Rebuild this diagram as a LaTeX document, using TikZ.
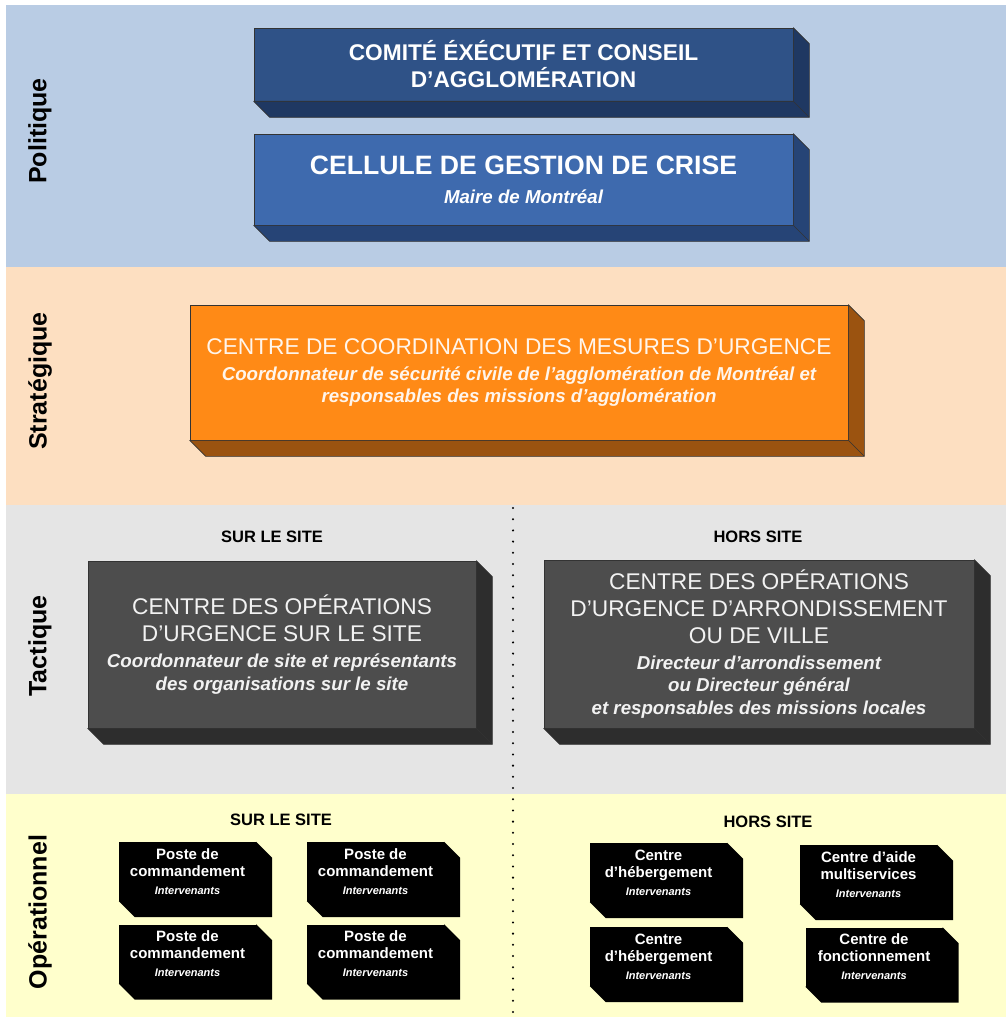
\documentclass[tikz,border=0pt]{standalone}
\usepackage{fontspec}
\setmainfont{Liberation Sans}
\usetikzlibrary{calc}

\definecolor{bandpol}{RGB}{185,204,228}
\definecolor{bandstrat}{RGB}{253,223,193}
\definecolor{bandtact}{RGB}{229,229,229}
\definecolor{bandop}{RGB}{255,255,204}
\definecolor{comfront}{RGB}{47,82,135}
\definecolor{comside}{RGB}{31,56,98}
\definecolor{celfront}{RGB}{62,106,174}
\definecolor{celside}{RGB}{38,68,118}
\definecolor{orfront}{RGB}{255,138,22}
\definecolor{orside}{RGB}{155,83,16}
\definecolor{grfront}{RGB}{77,77,77}
\definecolor{grside}{RGB}{45,45,45}

\newcommand{\gtitre}{\fontsize{22.7}{27}\selectfont}
\newcommand{\stitre}{\fontsize{18.7}{22.5}\selectfont\bfseries\itshape}
\newcommand{\itv}{\fontsize{11}{13}\selectfont\bfseries\itshape}

% side and bottom faces of a block
\newcommand{\epaisseur}[3][16]{%
  \path[fill=#3, arete, line join=round]
    (#2.north east) -- ++(#1,#1) -- ($(#2.south east)+(#1,#1)$)
    -- ($(#2.south west)+(#1,#1)$) -- (#2.south west) -- (#2.south east) -- cycle;
  \path[arete] (#2.south east) -- ++(#1,#1);}

\begin{document}
\begin{tikzpicture}[x=1pt,y=-1pt]
      \tikzset{
        arete/.style={draw=black!80,line width=0.6pt},
        bloc/.style={draw=black!80,line width=0.6pt,inner sep=0pt,align=center,
          text=white,font=\fontsize{18.7}{22.5}\selectfont},
        poste/.style={fill=black,inner sep=0pt,minimum width=137,minimum height=59,
          align=center,text=white,font=\fontsize{15}{17}\selectfont\bfseries},
        niveau/.style={rotate=90,font=\fontsize{25}{30}\selectfont\bfseries},
        lieu/.style={font=\fontsize{16.5}{20}\selectfont\bfseries}
      }
      \useasboundingbox (0,0) rectangle (1006,1019);
      \fill[white] (0,0) rectangle (1006,1019);

      \fill[bandpol] (6,5) rectangle (1006,267);
      \fill[bandstrat] (6,267) rectangle (1006,505);
      \fill[bandtact] (6,505) rectangle (1006,794);
      \fill[bandop] (6,794) rectangle (1006,1017);

      \node[niveau] (pol) at (40,131) {Politique};
      \node[niveau] (strat) at (40,381) {Stratégique};
      \node[niveau] (tact) at (40,646) {Tactique};
      \node[niveau] (op) at (40,912) {Opérationnel};

      \coordinate (sep1) at (513,508);
      \coordinate (sep2) at (513,1017);
      \draw[line width=2.3pt,line cap=round,dash pattern=on 0pt off 11.2pt] (sep1) -- (sep2);

      \node[bloc,fill=comfront,minimum width=539,minimum height=73] (comite) at (523.5,64.5)
        {{\gtitre\bfseries COMITÉ ÉXÉCUTIF ET CONSEIL}\\[4.5pt]{\gtitre\bfseries D’AGGLOMÉRATION}};
      \epaisseur{comite}{comside}

      \node[bloc,fill=celfront,minimum width=539,minimum height=91] (cellule) at (523.5,179.5)
        {{\fontsize{26.6}{29}\selectfont\bfseries CELLULE DE GESTION DE CRISE}\\[6.5pt]{\stitre Maire de Montréal}};
      \epaisseur{cellule}{celside}

      \node[bloc,fill=orfront,minimum width=658,minimum height=135,text=white!92!orange] (ccmu) at (519,372.5)
        {{\gtitre CENTRE DE COORDINATION DES MESURES D’URGENCE}\\[3.5pt]
         {\stitre Coordonnateur de sécurité civile de l’agglomération de Montréal et}\\
         {\stitre responsables des missions d’agglomération}};
      \epaisseur{ccmu}{orside}

      \node[lieu] (tsur) at (272,537) {SUR LE SITE};
      \node[lieu] (thors) at (758,537) {HORS SITE};

      \node[bloc,fill=grfront,minimum width=388,minimum height=167,text=black!5] (cosite) at (282,644.5)
        {{\gtitre CENTRE DES OPÉRATIONS}\\[4.5pt]{\gtitre D’URGENCE SUR LE SITE}\\[4pt]
         {\stitre Coordonnateur de site et représentants}\\
         {\stitre des organisations sur le site}};
      \epaisseur{cosite}{grside}

      \node[bloc,fill=grfront,minimum width=430,minimum height=168,text=black!5] (coville) at (759,644)
        {{\gtitre CENTRE DES OPÉRATIONS}\\[4.5pt]{\gtitre D’URGENCE D’ARRONDISSEMENT}\\[4.5pt]
         {\gtitre OU DE VILLE}\\[3.5pt]
         {\stitre Directeur d’arrondissement}\\
         {\stitre ou Directeur général}\\
         {\stitre et responsables des missions locales}};
      \epaisseur{coville}{grside}

      \node[lieu] (osur) at (281,820) {SUR LE SITE};
      \node[lieu] (ohors) at (768,822) {HORS SITE};

      \node[poste] (pc1) at (187.5,871.5) {Poste de\\commandement\\[1pt]{\itv Intervenants}};
      \node[poste] (pc2) at (375.5,871.5) {Poste de\\commandement\\[1pt]{\itv Intervenants}};
      \node[poste] (pc3) at (187.5,954) {Poste de\\commandement\\[1pt]{\itv Intervenants}};
      \node[poste] (pc4) at (375.5,954) {Poste de\\commandement\\[1pt]{\itv Intervenants}};
      \node[poste] (heb1) at (658.5,872.5) {Centre\\d’hébergement\\[1pt]{\itv Intervenants}};
      \node[poste] (aide) at (868.5,874.5) {Centre d’aide\\multiservices\\[1pt]{\itv Intervenants}};
      \node[poste] (heb2) at (658.5,956.5) {Centre\\d’hébergement\\[1pt]{\itv Intervenants}};
      \node[poste] (fonct) at (874,957) {Centre de\\fonctionnement\\[1pt]{\itv Intervenants}};
      \begin{scope}[arete/.style={draw=none}]
        \foreach \b in {pc1,pc2,pc3,pc4,heb1,aide,heb2,fonct}
          \epaisseur{\b}{black};
      \end{scope}
    \end{tikzpicture}
\end{document}
